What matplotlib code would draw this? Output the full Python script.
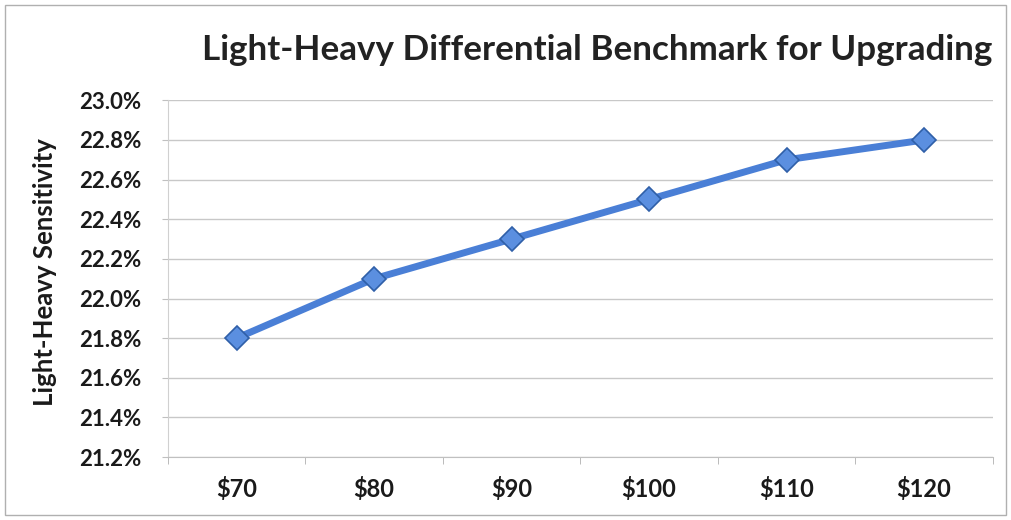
import matplotlib
matplotlib.use("Agg")
import matplotlib.pyplot as plt
from matplotlib.ticker import FuncFormatter, MultipleLocator
from matplotlib.patches import Rectangle

categories = ["$70", "$80", "$90", "$100", "$110", "$120"]
sensitivity = [21.8, 22.1, 22.3, 22.5, 22.7, 22.8]
title = "Light-Heavy Differential Benchmark for Upgrading"
ylabel = "Light-Heavy Sensitivity"

plt.rcParams['font.family'] = ['Lato', 'DejaVu Sans']

fig = plt.figure(figsize=(10.11, 5.2), dpi=100)
ax = fig.add_axes([0.166, 0.121, 0.816, 0.686])

x = list(range(len(categories)))
ax.plot(x, sensitivity, color="#4a7fd6", linewidth=5, marker="D",
        markersize=12, markerfacecolor="#5b8fe0", markeredgecolor="#2f5fa8",
        markeredgewidth=1.2, solid_capstyle="round", zorder=3)

ax.set_xlim(-0.5, len(categories) - 0.5)
ax.set_ylim(21.2, 23.0)
ax.yaxis.set_major_locator(MultipleLocator(0.2))
ax.yaxis.set_major_formatter(FuncFormatter(lambda v, p: f"{v:.1f}%"))
ax.set_xticks(x)
ax.set_xticklabels(categories)
ax.set_xticks([i + 0.5 for i in range(-1, len(categories))], minor=True)

ax.grid(axis="y", color="#c8c8c8", linewidth=1.0, zorder=0)
for s in ["top", "right"]:
    ax.spines[s].set_visible(False)
ax.spines["left"].set_color("#d0d0d0")
ax.spines["bottom"].set_color("#c0c0c0")

ax.tick_params(axis="x", which="major", length=0, pad=14, labelsize=17)
ax.tick_params(axis="x", which="minor", length=5, color="#b0b0b0")
ax.tick_params(axis="y", which="major", length=4, color="#c0c0c0", labelsize=16, pad=15)
for lbl in ax.get_xticklabels() + ax.get_yticklabels():
    lbl.set_fontweight("bold")
    lbl.set_color("#1a1a1a")

fig.text(45 / 1011, (520 - 272) / 520, ylabel, rotation=90, ha="center", va="center",
         fontsize=18.5, fontweight="bold", color="#1a1a1a")

fig.text(597 / 1011, 0.904, title, ha="center", va="center", fontsize=25.2,
         fontweight="bold", color="#222222")

fig.patches.append(Rectangle((0.005, 0.01), 0.99, 0.98, transform=fig.transFigure,
                             fill=False, edgecolor="#b0b0b0", linewidth=1.0))

fig.savefig("out.png", dpi=100, facecolor="white")
